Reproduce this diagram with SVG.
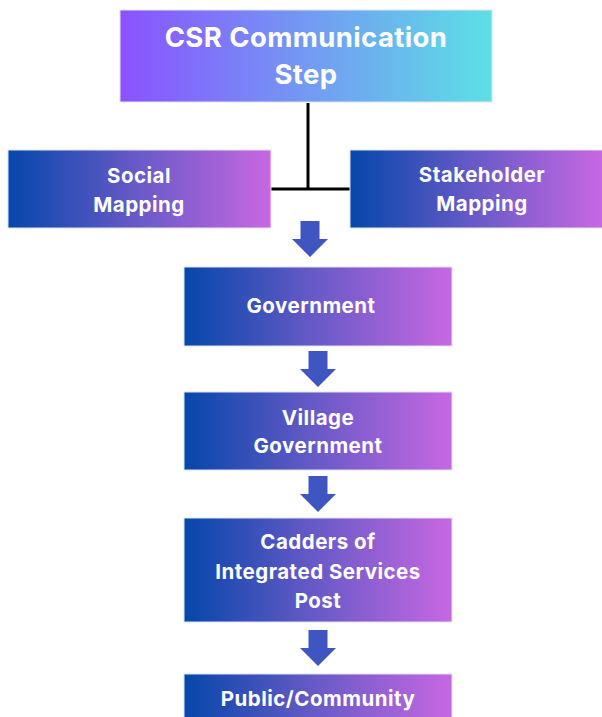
<svg xmlns="http://www.w3.org/2000/svg" width="602" height="717" viewBox="0 0 602 717">
  <defs>
    <linearGradient id="gTop" x1="0" y1="0" x2="1" y2="0">
      <stop offset="0" stop-color="#8a52ff"/>
      <stop offset="1" stop-color="#5ce0e6"/>
    </linearGradient>
    <linearGradient id="gBox" x1="0" y1="0" x2="1" y2="0">
      <stop offset="0" stop-color="#0647aa"/>
      <stop offset="0.5" stop-color="#6a5ac8"/>
      <stop offset="1" stop-color="#c867e2"/>
    </linearGradient>
    <path id="arrow" d="M-9.5,0 H9.5 V18 H18 L0,36 L-18,18 H-9.5 Z"/>
  </defs>
  <style>
    .box { fill: url(#gBox); stroke: #dfe3f5; stroke-width: 1; }
    .top { fill: url(#gTop); stroke: #dfe3f5; stroke-width: 1; }
    .t { font-family: Inter, "Open Sans", "Liberation Sans", sans-serif; font-weight: 700; fill: #ffffff; text-anchor: middle; font-size: 20.5px; letter-spacing: 0.5px; }
    .tt { font-size: 27.5px; letter-spacing: 0.4px; }
    .line { stroke: #000000; stroke-width: 3; fill: none; }
    .arr { fill: #3f55c0; }
  </style>

  <g id="connectors">
    <path class="line" d="M308,103 V189 M271,189 H350"/>
    <use href="#arrow" class="arr" x="310" y="221"/>
    <use href="#arrow" class="arr" x="318" y="351"/>
    <use href="#arrow" class="arr" x="318" y="476"/>
    <use href="#arrow" class="arr" x="318" y="630"/>
  </g>

  <g id="csr-step">
    <rect class="top" x="120" y="10" width="372" height="92"/>
    <text class="t tt" x="306" y="47">CSR Communication</text>
    <text class="t tt" x="306" y="84">Step</text>
  </g>

  <g id="social-mapping">
    <rect class="box" x="8" y="150" width="263" height="78"/>
    <text class="t" x="139" y="183">Social</text>
    <text class="t" x="139" y="212">Mapping</text>
  </g>

  <g id="stakeholder-mapping">
    <rect class="box" x="350" y="150" width="253" height="78"/>
    <text class="t" x="482" y="182">Stakeholder</text>
    <text class="t" x="482" y="211">Mapping</text>
  </g>

  <g id="government">
    <rect class="box" x="184" y="267" width="268" height="79"/>
    <text class="t" x="311" y="313">Government</text>
  </g>

  <g id="village-government">
    <rect class="box" x="184" y="392" width="268" height="78"/>
    <text class="t" x="318" y="425">Village</text>
    <text class="t" x="318" y="453">Government</text>
  </g>

  <g id="cadders">
    <rect class="box" x="184" y="518" width="268" height="104"/>
    <text class="t" x="318" y="549">Cadders of</text>
    <text class="t" x="318" y="579">Integrated Services</text>
    <text class="t" x="318" y="608">Post</text>
  </g>

  <g id="public-community">
    <rect class="box" x="184" y="674" width="268" height="60"/>
    <text class="t" x="318" y="706">Public/Community</text>
  </g>
</svg>
